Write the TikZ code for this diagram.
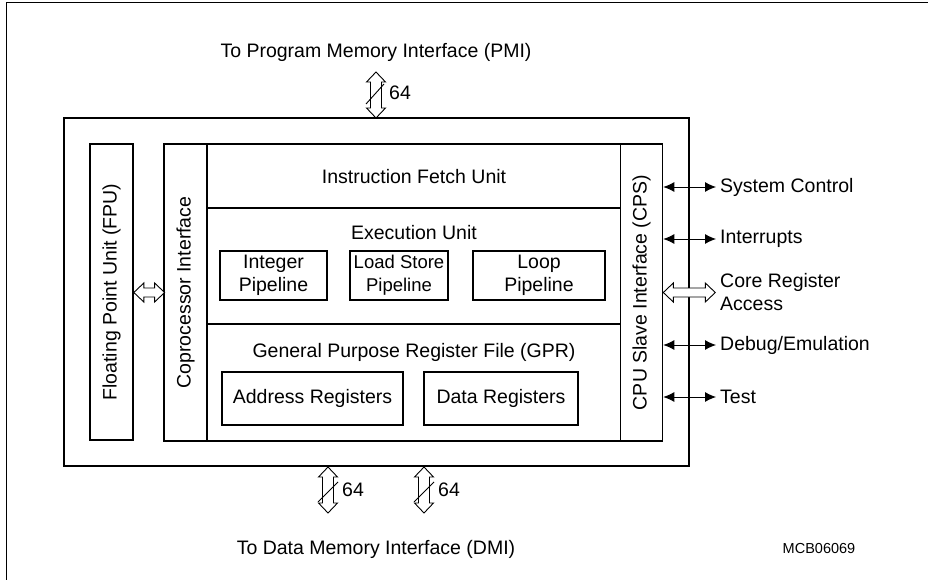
\documentclass[tikz,border=0pt]{standalone}
\usepackage{fontspec}
\setmainfont{Liberation Sans}
\usetikzlibrary{arrows.meta}
\begin{document}
\begin{tikzpicture}[x=1pt,y=-1pt,
  blk/.style={draw,line width=1.6pt},
  txt/.style={font=\fontsize{19.5}{23}\selectfont,inner sep=0pt},
  boxtxt/.style={font=\fontsize{19.5}{23}\selectfont,align=center,inner sep=0pt},
  sig/.style={line width=0.9pt,{Latex[length=11pt,width=10pt]}-{Latex[length=11pt,width=10pt]}},
  hollow/.style={line width=0.9pt,fill=white,line join=miter}]
\useasboundingbox (0,0) rectangle (928,580);
\draw[line width=1.2pt] (6.5,580) -- (6.5,2.5) -- (928,2.5);
% outer box
\draw[blk] (64,118) rectangle (689,466);
% FPU
\node[blk,minimum width=43pt,minimum height=296pt,inner sep=0pt] (fpu) at (111.5,292) {};
\node[txt,rotate=90] at (fpu.center) {Floating Point Unit (FPU)};
% Coprocessor
\node[blk,minimum width=43pt,minimum height=297pt,inner sep=0pt] (cop) at (185.5,292.5) {};
\node[txt,rotate=90] at (cop.center) {Coprocessor Interface};
% CPS
\node[blk,minimum width=42pt,minimum height=297pt,inner sep=0pt] (cps) at (641.5,292.5) {};
\node[txt,rotate=90] at (cps.center) {CPU Slave Interface (CPS)};
% main area
\draw[blk] (207,144) -- (621,144);
\draw[blk] (207,441) -- (621,441);
\draw[blk] (207,208) -- (621,208);
\draw[blk] (207,324) -- (621,324);
\node[txt] (ifu) at (414,177) {Instruction Fetch Unit};
\node[txt] (eu) at (414,233) {Execution Unit};
\node[blk,minimum width=107pt,minimum height=49pt,boxtxt] (ip) at (273.5,275.5) {Integer\\Pipeline};
\node[blk,minimum width=98pt,minimum height=49pt,boxtxt,font=\fontsize{18.5}{23}\selectfont] (ls) at (399,275.5) {Load Store\\Pipeline};
\node[blk,minimum width=132pt,minimum height=49pt,boxtxt] (lp) at (539,275.5) {Loop\\Pipeline};
\node[txt] (gpr) at (414,352) {General Purpose Register File (GPR)};
\node[blk,minimum width=181pt,minimum height=53pt,boxtxt] (ar) at (312.5,398.5) {Address Registers};
\node[blk,minimum width=154pt,minimum height=53pt,boxtxt] (dr) at (501,398.5) {Data Registers};
% FPU-coproc hollow arrow
\draw[hollow] (fpu.east |- 0,292.5) -- ++(10,-9.5) -- ++(0,5) -- ++(10.8,0) -- ++(0,-5) -- ++(10,9.5) -- ++(-10,9.5) -- ++(0,-5) -- ++(-10.8,0) -- ++(0,5) -- cycle;
% CPS signals
\coordinate (s1) at (716,187);
\coordinate (s2) at (716,239);
\coordinate (s4) at (716,345);
\coordinate (s5) at (716,397);
\draw[sig] (cps.east |- s1) -- (s1);
\draw[sig] (cps.east |- s2) -- (s2);
\draw[sig] (cps.east |- s4) -- (s4);
\draw[sig] (cps.east |- s5) -- (s5);
\node[txt,anchor=west] at (720,187) {System Control};
\node[txt,anchor=west] at (720,239) {Interrupts};
\node[txt,anchor=west,align=left] at (720,292) {Core Register\\Access};
\node[txt,anchor=west] at (720,345) {Debug/Emulation};
\node[txt,anchor=west] at (720,397) {Test};
\draw[hollow] (cps.east |- 0,292.5) -- ++(10,-9.5) -- ++(0,5) -- ++(32,0) -- ++(0,-5) -- ++(10,9.5) -- ++(-10,9.5) -- ++(0,-5) -- ++(-32,0) -- ++(0,5) -- cycle;
% top bus
\draw[hollow] (376,72) -- ++(9.5,10) -- ++(-4,0) -- ++(0,26) -- ++(4,0) -- ++(-9.5,10) -- ++(-9.5,-10) -- ++(4,0) -- ++(0,-26) -- ++(-4,0) -- cycle;
\draw[line width=0.9pt] (366,104) -- (384,84);
\node[txt,anchor=west] at (389,93) {64};
\node[txt] (pmi) at (376,52) {To Program Memory Interface (PMI)};
% bottom buses
\foreach \bx in {328,424}{
  \draw[hollow] (\bx,467) -- ++(9.5,10) -- ++(-4,0) -- ++(0,26) -- ++(4,0) -- ++(-9.5,10) -- ++(-9.5,-10) -- ++(4,0) -- ++(0,-26) -- ++(-4,0) -- cycle;
  \draw[line width=0.9pt] (\bx-10,502) -- (\bx+10,482);
  \node[txt,anchor=west] at (\bx+14,490) {64};
}
\node[txt] (dmi) at (376,549) {To Data Memory Interface (DMI)};
\node[font=\fontsize{14.5}{17}\selectfont,inner sep=0pt] (mcb) at (819,549) {MCB06069};
\end{tikzpicture}
\end{document}
